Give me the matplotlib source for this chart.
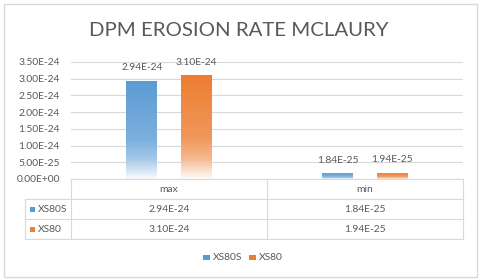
import matplotlib
matplotlib.use("Agg")
import matplotlib.pyplot as plt
import numpy as np
from matplotlib.patches import Rectangle
from matplotlib.colors import to_rgb

categories = ["max", "min"]
series_names = ["XS80S", "XS80"]
xs80s = [2.94e-24, 1.84e-25]
xs80 = [3.10e-24, 1.94e-25]
yticks = [0, 5e-25, 1e-24, 1.5e-24, 2e-24, 2.5e-24, 3e-24, 3.5e-24]
title = "DPM EROSION RATE MCLAURY"

colors = ["#5B9BD5", "#ED7D31"]
text_color = "#595959"
grid_color = "#D9D9D9"
FONT = "Lato"
FS = 7.4

W, H = 480, 280
fig = plt.figure(figsize=(W / 100, H / 100), dpi=100)

def fx(px):
    return px / W

def fy(py):
    return 1 - py / H

# outer border
fig.patches.append(Rectangle((fx(4), fy(277)), fx(473), 273 / H, transform=fig.transFigure,
                             fill=False, edgecolor=grid_color, linewidth=1.0))

# plot area
L, R, T, B = 71, 463, 62, 179
ax = fig.add_axes([fx(L), fy(B), (R - L) / W, (B - T) / H])
ax.set_xlim(-0.5, 1.5)
ax.set_ylim(0, 3.5e-24)
for s in ax.spines.values():
    s.set_visible(False)
ax.set_yticks(yticks)
ax.set_yticklabels([f"{v:.2E}" for v in yticks], fontsize=FS, color=text_color, family=FONT)
ax.tick_params(axis="y", length=0, pad=8)
ax.set_xticks([])
ax.grid(axis="y", color=grid_color, linewidth=0.8)
ax.set_axisbelow(True)
ax.patch.set_alpha(0)

x = np.arange(len(categories))
bw = 0.158
off = 0.138
all_series = [xs80s, xs80]
for si, vals in enumerate(all_series):
    xpos = x + (off if si else -off)
    bars = ax.bar(xpos, vals, width=bw, color=colors[si], linewidth=0, zorder=2)
    c = np.array(to_rgb(colors[si]))
    n = 200
    t = np.linspace(0, 1, n)  # 0 = top, 1 = bottom
    w = np.interp(t, [0, 0.6, 0.8, 1.0], [0.0, 0.2, 0.45, 0.97])
    grad = c[None, :] * (1 - w[:, None]) + np.ones(3)[None, :] * w[:, None]
    img = grad[:, None, :]
    for b, v in zip(bars, vals):
        b.set_alpha(0)
        im = ax.imshow(img, extent=[b.get_x(), b.get_x() + b.get_width(), 0, v],
                       aspect="auto", zorder=3, interpolation="bilinear")
        clip = Rectangle((b.get_x(), 0), b.get_width(), v, transform=ax.transData)
        im.set_clip_path(clip)
        ax.annotate(f"{v:.2E}", (b.get_x() + b.get_width() / 2, v), xytext=(0, 6),
                    textcoords="offset points", ha="center", va="bottom",
                    fontsize=FS, color=text_color, family=FONT)
ax.set_xlim(-0.5, 1.5)
ax.set_ylim(0, 3.5e-24)

# title
fig.text(fx(239), fy(30), title, ha="center", va="center", fontsize=14.7,
         color=text_color, family=FONT)

# data table
tb_left = 25
col_edges = [L, (L + R) / 2, R]
rows_y = [179, 199, 219, 239]
lw = 0.8
def hline(x0, x1, y):
    fig.add_artist(plt.Line2D([fx(x0), fx(x1)], [fy(y), fy(y)], transform=fig.transFigure,
                              color=grid_color, linewidth=lw))
def vline(xp, y0, y1):
    fig.add_artist(plt.Line2D([fx(xp), fx(xp)], [fy(y0), fy(y1)], transform=fig.transFigure,
                              color=grid_color, linewidth=lw))
hline(L, R, rows_y[0])
for y in rows_y[1:]:
    hline(tb_left, R, y)
vline(L, rows_y[0], rows_y[3])
vline(col_edges[1], rows_y[0], rows_y[3])
vline(R, rows_y[0], rows_y[3])
vline(tb_left, rows_y[1], rows_y[3])

for ci, cat in enumerate(categories):
    cx = (col_edges[ci] + col_edges[ci + 1]) / 2
    fig.text(fx(cx), fy((rows_y[0] + rows_y[1]) / 2), cat, ha="center", va="center",
             fontsize=FS, color=text_color, family=FONT)
for si, vals in enumerate(all_series):
    ymid = (rows_y[si + 1] + rows_y[si + 2]) / 2
    fig.patches.append(Rectangle((fx(30), fy(ymid + 2.5)), fx(5), 5 / H, transform=fig.transFigure,
                                 facecolor=colors[si], edgecolor="none"))
    fig.text(fx(38), fy(ymid), series_names[si], ha="left", va="center",
             fontsize=FS, color=text_color, family=FONT)
    for ci, v in enumerate(vals):
        cx = (col_edges[ci] + col_edges[ci + 1]) / 2
        fig.text(fx(cx), fy(ymid), f"{v:.2E}", ha="center", va="center",
                 fontsize=FS, color=text_color, family=FONT)

# bottom legend
leg_y = 257
leg_x = [203, 249]
for si in range(2):
    fig.patches.append(Rectangle((fx(leg_x[si]), fy(leg_y + 2.5)), fx(7), 5 / H,
                                 transform=fig.transFigure, facecolor=colors[si], edgecolor="none"))
    fig.text(fx(leg_x[si] + 10), fy(leg_y), series_names[si], ha="left", va="center",
             fontsize=FS, color=text_color, family=FONT)

fig.savefig("out.png", dpi=100, facecolor="white")
